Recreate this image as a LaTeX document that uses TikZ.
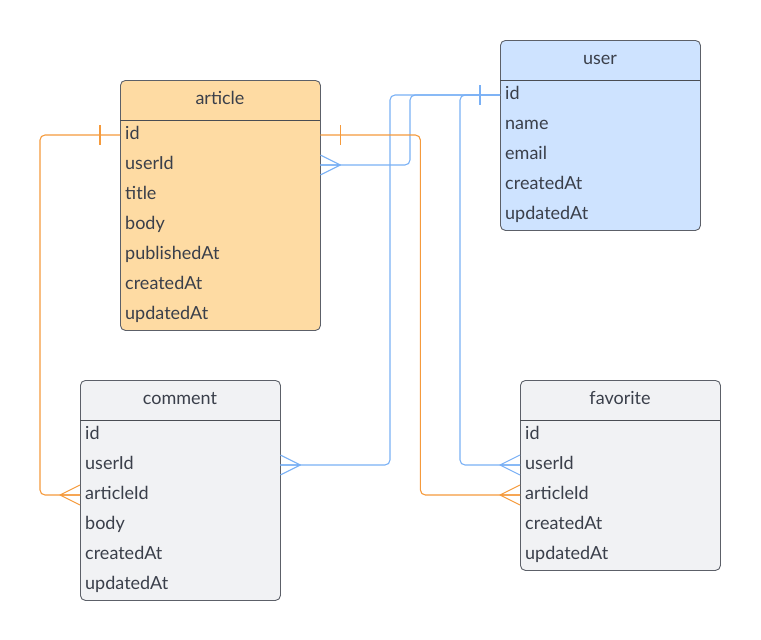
\documentclass[tikz,border=0pt]{standalone}
\usepackage{fontspec}
\setmainfont{Lato}
\usetikzlibrary{calc}
\definecolor{ink}{HTML}{3A3F4A}
\definecolor{edgecol}{HTML}{5C6068}
\definecolor{artcol}{HTML}{FEDBA3}
\definecolor{usrcol}{HTML}{CEE3FF}
\definecolor{othcol}{HTML}{F1F2F4}
\definecolor{relocol}{HTML}{F59A3C}
\definecolor{relbcol}{HTML}{79B0F5}
% one entity table: name, x, y (top), fill, number of rows, rows
\newcommand{\entity}[6]{%
  \begin{scope}[shift={(#2,#3)}]
    \node[tbl, fill=#4, minimum height={40pt+30pt*#5}] (#1) at (0,0) {};
    \node[ttl] (#1-title) at (100,20) {#1};
    \draw[edgecol!80!black, line width=0.9pt] (0,40) -- (200,40);
    \foreach \r [count=\i] in {#6}
      \node[fld] (#1-\r) at (0,{25+30*\i}) {\r};
  \end{scope}}
% relationship ends
\newcommand{\onebar}[3]{%
  \draw[#3] ($(#1)+(#2,-10)$) -- ($(#1)+(#2,10)$);}
\newcommand{\manyfoot}[3]{%
  \draw[#3] ($(#1)+(0,-10)$) -- ($(#1)+(#2,0)$) -- ($(#1)+(0,10)$)
            ($(#1)+(#2,0)$) -- (#1);}

\begin{document}
\begin{tikzpicture}[
  x=1pt, y=-1pt, line join=round,
  font=\fontsize{18}{21}\selectfont,
  tbl/.style={draw=edgecol, line width=0.9pt, rounded corners=5pt,
    anchor=north west, minimum width=200pt, inner sep=0pt},
  ttl/.style={text=ink, text height=13pt, text depth=4pt},
  fld/.style={text=ink, anchor=west, text width=190pt, inner xsep=5pt,
    text height=13pt, text depth=4pt, align=left},
  relo/.style={relocol, line width=1.1pt},
  relb/.style={relbcol, line width=1.1pt},
  link/.style={rounded corners=5pt}]
\useasboundingbox (0,0) rectangle (761,640);

% ============================================== tables
\entity{article}{120}{80}{artcol}{7}{id,userId,title,body,publishedAt,createdAt,updatedAt}
\entity{user}{500}{40}{usrcol}{5}{id,name,email,createdAt,updatedAt}
\entity{comment}{80}{380}{othcol}{6}{id,userId,articleId,body,createdAt,updatedAt}
\entity{favorite}{520}{380}{othcol}{5}{id,userId,articleId,createdAt,updatedAt}

% ============================================== user.id
\draw[relb, link] (user-id.west) -- ++(-110,0) |- (comment-userId.east);
\draw[relb, link] (user-id.west) -- ++(-90,0) |- (article-userId.east);
\draw[relb, link] (user-id.west) -- ++(-40,0) |- (favorite-userId.west);
\onebar{user-id.west}{-20}{relb}
\manyfoot{article-userId.east}{20}{relb}
\manyfoot{comment-userId.east}{20}{relb}
\manyfoot{favorite-userId.west}{-20}{relb}

% ============================================== article.id
\draw[relo, link] (article-id.west) -- ++(-80,0) |- (comment-articleId.west);
\draw[relo, link] (article-id.east) -- ++(100,0) |- (favorite-articleId.west);
\onebar{article-id.west}{-20}{relo}
\onebar{article-id.east}{20}{relo}
\manyfoot{comment-articleId.west}{-20}{relo}
\manyfoot{favorite-articleId.west}{-20}{relo}

\end{tikzpicture}
\end{document}
